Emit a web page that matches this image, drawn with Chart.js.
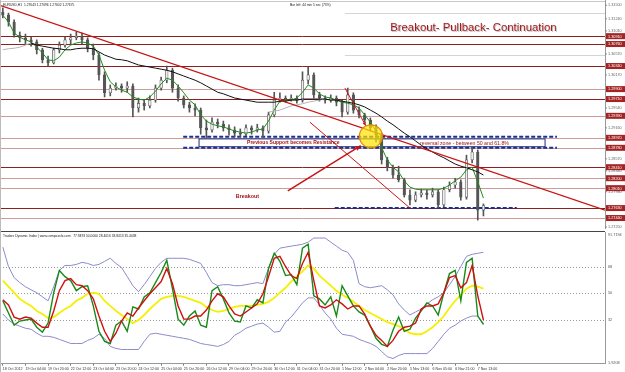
<!DOCTYPE html>
<html>
<head>
<meta charset="utf-8">
<script src="https://cdn.jsdelivr.net/npm/chart.js@4.4.1/dist/chart.umd.min.js"></script>
<style>
body{margin:0;background:#fff;width:625px;height:372px;overflow:hidden}
#top{position:absolute;left:0;top:0;width:625px;height:231px}
#bot{position:absolute;left:0;top:231px;width:625px;height:141px}
</style>
</head>
<body>
<div id="top"><canvas id="c1"></canvas></div>
<div id="bot"><canvas id="c2"></canvas></div>
<script>
// x axis labels, one every 4 bars (4h bars)
var xTicks=["18 Oct 2012","19 Oct 04:00","19 Oct 20:00","22 Oct 12:00","23 Oct 04:00","23 Oct 20:00","24 Oct 12:00","25 Oct 04:00","25 Oct 20:00","26 Oct 12:00","29 Oct 04:00","29 Oct 20:00","30 Oct 12:00","31 Oct 04:00","31 Oct 20:00","1 Nov 12:00","2 Nov 04:00","2 Nov 20:00","5 Nov 13:00","6 Nov 05:00","6 Nov 21:00","7 Nov 13:00"];

// EURUSD candles
var opens=[1.3137,1.3131,1.3118,1.3093,1.3088,1.3084,1.3080,1.3065,1.3046,1.3040,
1.3065,1.3074,1.3084,1.3088,1.3091,1.3084,1.3068,1.3055,1.3017,1.2983,
1.2992,1.2996,1.2992,1.2996,1.2954,1.2963,1.2958,1.2969,1.2992,1.3007,
1.3026,1.2992,1.2973,1.2960,1.2954,1.2950,1.2916,1.2912,1.2927,1.2923,
1.2916,1.2912,1.2906,1.2904,1.2916,1.2912,1.2916,1.2910,1.2941,1.2969,
1.2973,1.2971,1.2973,1.2969,1.3007,1.3017,1.2979,1.2973,1.2969,1.2973,
1.2965,1.2946,1.2979,1.2950,1.2941,1.2931,1.2916,1.2902,1.2855,1.2840,
1.2826,1.2817,1.2788,1.2778,1.2788,1.2792,1.2788,1.2794,1.2769,1.2798,
1.2807,1.2813,1.2784,1.2855,1.2870,1.2759];
var highs=[1.3145,1.3135,1.3122,1.3099,1.3095,1.3089,1.3084,1.3068,1.3053,1.3068,
1.3080,1.3089,1.3095,1.3099,1.3097,1.3088,1.3076,1.3059,1.3023,1.2998,
1.3002,1.3000,1.3004,1.3000,1.2973,1.2969,1.2977,1.2998,1.3013,1.3034,
1.3030,1.2998,1.2977,1.2965,1.2962,1.2954,1.2931,1.2935,1.2933,1.2929,
1.2922,1.2918,1.2914,1.2922,1.2920,1.2923,1.2920,1.2946,1.2984,1.2983,
1.2977,1.2979,1.2977,1.3023,1.3032,1.3021,1.2984,1.2977,1.2979,1.2977,
1.2969,1.2992,1.2983,1.2956,1.2944,1.2935,1.2922,1.2906,1.2860,1.2845,
1.2843,1.2820,1.2798,1.2794,1.2799,1.2798,1.2801,1.2798,1.2803,1.2813,
1.2820,1.2817,1.2864,1.2880,1.2874,1.2771];
var lows=[1.3126,1.3110,1.3089,1.3080,1.3076,1.3072,1.3057,1.3040,1.3034,1.3038,
1.3059,1.3070,1.3076,1.3084,1.3076,1.3061,1.3046,1.3007,1.2975,1.2977,
1.2988,1.2984,1.2984,1.2937,1.2946,1.2950,1.2954,1.2965,1.2988,1.3002,
1.2984,1.2967,1.2954,1.2946,1.2939,1.2904,1.2897,1.2908,1.2916,1.2910,
1.2902,1.2899,1.2899,1.2901,1.2904,1.2908,1.2899,1.2906,1.2937,1.2965,
1.2965,1.2967,1.2963,1.2965,1.3000,1.2973,1.2967,1.2963,1.2965,1.2958,
1.2937,1.2942,1.2944,1.2935,1.2927,1.2910,1.2889,1.2847,1.2834,1.2820,
1.2813,1.2784,1.2769,1.2775,1.2784,1.2780,1.2784,1.2763,1.2765,1.2794,
1.2801,1.2778,1.2780,1.2849,1.2740,1.2748];
var closes=[1.3131,1.3118,1.3093,1.3088,1.3084,1.3080,1.3065,1.3046,1.3040,1.3065,
1.3074,1.3084,1.3088,1.3091,1.3084,1.3068,1.3055,1.3017,1.2983,1.2992,
1.2996,1.2992,1.2996,1.2954,1.2963,1.2958,1.2969,1.2992,1.3007,1.3026,
1.2992,1.2973,1.2960,1.2954,1.2950,1.2916,1.2912,1.2927,1.2923,1.2916,
1.2912,1.2906,1.2904,1.2916,1.2912,1.2916,1.2910,1.2941,1.2969,1.2973,
1.2971,1.2973,1.2969,1.3007,1.3017,1.2979,1.2973,1.2969,1.2973,1.2965,
1.2946,1.2979,1.2950,1.2941,1.2931,1.2916,1.2902,1.2855,1.2840,1.2826,
1.2817,1.2788,1.2778,1.2788,1.2792,1.2788,1.2794,1.2769,1.2798,1.2807,
1.2813,1.2784,1.2855,1.2870,1.2759,1.2768];

// moving averages
var maFast=[1.3131,1.3118,1.3097,1.3089,1.3084,1.3080,1.3070,1.3059,1.3046,1.3044,
1.3051,1.3065,1.3074,1.3078,1.3080,1.3078,1.3072,1.3055,1.3026,1.3004,
1.2994,1.2988,1.2984,1.2975,1.2971,1.2969,1.2975,1.2986,1.3000,1.3011,
1.3007,1.2996,1.2983,1.2969,1.2960,1.2941,1.2929,1.2923,1.2920,1.2918,
1.2914,1.2910,1.2908,1.2906,1.2908,1.2912,1.2914,1.2929,1.2950,1.2967,
1.2969,1.2969,1.2973,1.2984,1.2998,1.2992,1.2981,1.2975,1.2973,1.2969,
1.2965,1.2963,1.2960,1.2954,1.2941,1.2927,1.2910,1.2878,1.2855,1.2841,
1.2832,1.2815,1.2803,1.2799,1.2798,1.2798,1.2798,1.2798,1.2801,1.2807,
1.2815,1.2822,1.2836,1.2841,1.2813,1.2782];
var maSlow=[null,null,null,null,null,1.3078,1.3074,1.3072,1.3070,1.3068,
1.3067,1.3065,1.3065,1.3067,1.3068,1.3068,1.3067,1.3061,1.3055,1.3051,
1.3047,1.3046,1.3044,1.3040,1.3036,1.3034,1.3032,1.3030,1.3028,1.3026,
1.3023,1.3019,1.3015,1.3011,1.3007,1.3002,1.2996,1.2990,1.2984,1.2981,
1.2977,1.2973,1.2971,1.2969,1.2967,1.2965,1.2965,1.2965,1.2965,1.2967,
1.2967,1.2969,1.2969,1.2971,1.2971,1.2971,1.2971,1.2971,1.2969,1.2969,
1.2967,1.2965,1.2963,1.2960,1.2956,1.2950,1.2944,1.2937,1.2929,1.2922,
1.2914,1.2906,1.2899,1.2891,1.2883,1.2876,1.2870,1.2864,1.2859,1.2853,
1.2847,1.2843,1.2840,1.2836,1.2832,1.2826];
var maGray=[1.3065,1.3067,1.3068,1.3070,1.3074,1.3078,null,null,null,null,
null,null,null,null,null,null,null,null,null,null,
null,null,null,null,null,null,null,null,null,null,
null,null,null,null,null,null,null,null,null,null,
null,null,null,null,null,null,null,1.2946,1.2948,1.2950,
1.2954,1.2958,1.2960,1.2962,1.2965,1.2967,1.2969,1.2971];

// horizontal levels and axis
var levels=[1.3091,1.3076,1.3034,1.2990,1.2971,1.2939,1.2897,1.2878,1.2841,1.2820,1.2801,1.2763,1.2744];
var levelDark=[1,1,1,0,1,0,0,0,1,0,0,1,0];
var fibLines=[1.3135,1.3055];
var priceTicks=[1.3150,1.3124,1.3101,1.3057,1.3017,1.2954,1.2916,1.2857,1.2834,1.2794,1.2725];

// Traders Dynamic Index
var rsi=[44.8,36.5,28.2,31.0,31.7,32.3,26.8,23.4,29.6,50.3,
65.5,61.3,58.6,51.7,54.4,55.1,41.3,24.0,17.1,15.7,
28.2,31.0,24.0,40.6,39.2,47.5,50.3,57.2,64.1,72.4,
53.1,32.3,28.2,34.4,37.9,28.2,26.8,51.7,54.4,46.1,
36.5,31.0,30.3,41.3,39.9,45.5,43.4,66.9,77.2,71.7,
62.0,62.7,55.8,80.7,83.4,48.2,46.1,42.0,47.5,34.4,
55.1,48.2,41.3,37.2,35.1,27.5,19.2,15.1,13.7,24.7,
33.7,24.0,25.4,33.0,37.9,43.4,41.3,35.1,50.3,63.4,
65.5,44.8,71.0,73.8,34.4,28.9];
var signal=[45.5,42.0,33.7,32.3,33.7,33.0,29.6,26.8,26.8,37.9,
51.7,58.6,60.0,55.8,55.1,51.7,46.1,34.4,24.0,17.1,
22.7,31.0,36.5,34.4,39.9,44.8,49.6,53.7,57.9,66.9,
56.5,41.3,32.3,32.3,34.4,34.4,38.5,44.8,49.6,47.5,
41.3,35.8,34.4,37.2,39.9,42.7,49.6,61.3,73.8,75.1,
68.2,62.0,60.0,70.3,77.9,58.6,41.3,39.9,42.0,45.5,
42.7,39.2,41.3,41.3,35.8,27.5,21.3,17.8,13.7,17.8,
24.0,26.8,27.5,29.6,39.2,41.3,41.3,42.7,50.3,60.7,
62.0,53.7,57.2,68.9,48.2,31.7];
var base=[58.6,54.4,50.3,46.1,43.4,41.3,37.9,35.8,33.0,33.7,
36.5,39.2,41.3,44.8,46.8,49.6,50.3,49.6,44.8,41.3,
37.9,35.1,32.3,29.6,31.7,35.1,39.2,42.7,46.1,47.5,
48.2,48.2,47.5,46.1,44.8,43.4,40.6,38.5,37.2,37.9,
39.2,40.6,41.3,41.3,41.3,42.0,42.7,44.1,46.8,50.3,
53.7,57.9,61.3,64.8,68.9,66.9,62.0,58.6,55.1,51.7,
48.9,46.8,44.1,41.3,38.5,36.5,34.4,32.3,30.3,28.9,
27.5,25.4,22.7,22.0,22.0,24.0,26.8,30.3,34.4,39.9,
44.8,48.9,53.1,55.1,54.4,53.1];
var bandUp=[81.4,68.2,60.6,57.2,54.4,52.3,50.3,47.5,44.8,54.4,
65.5,68.9,68.9,69.6,71.0,70.3,68.9,69.6,71.7,73.8,
70.3,67.5,61.3,55.1,51.0,55.8,61.3,66.9,71.0,73.8,
73.8,73.8,73.8,73.1,71.7,70.3,64.1,57.2,55.1,55.8,
55.8,55.1,55.1,55.8,56.5,57.2,56.5,66.9,76.5,80.7,
81.4,82.1,82.7,83.4,84.8,87.6,87.6,87.6,84.8,82.1,
79.3,77.9,72.4,56.5,54.4,53.7,54.4,55.1,52.3,48.9,
42.7,38.5,35.1,37.2,39.2,42.7,45.5,47.5,50.3,55.8,
61.3,68.2,75.1,76.5,77.2,77.9];
var bandDn=[35.8,31.7,28.9,27.5,26.1,25.4,22.7,20.6,20.6,19.9,
18.5,17.1,15.7,15.7,15.7,17.8,19.2,22.0,19.2,13.7,
12.3,11.6,11.6,11.6,11.6,17.1,22.0,22.7,22.0,21.3,
20.6,19.9,19.2,18.5,17.1,15.7,15.0,14.4,13.7,15.0,
17.1,21.3,23.4,26.1,27.5,28.9,29.6,26.8,23.4,24.0,
30.3,33.7,38.5,43.4,46.8,46.8,42.0,36.5,32.3,26.1,
22.0,21.3,20.6,18.5,17.1,15.7,13.7,10.2,6.7,5.4,
7.5,8.8,8.8,8.8,8.8,8.8,12.3,17.1,22.0,26.1,
28.2,31.0,33.0,34.4,34.4,28.4];
var tdiLevels=[68,50,32];

var nCats=107;
var cats=[];
for(var i=0;i<nCats;i++){
	cats.push(i%4===0 && xTicks[i/4] ? xTicks[i/4] : '');
}

Chart.defaults.font.family='"Liberation Sans", Arial, sans-serif';
var FONT='"Liberation Sans", Arial, sans-serif';

function arrow(ctx,x0,y0,x1,y1,w,color,head){
	ctx.strokeStyle=color;ctx.lineWidth=w;
	ctx.beginPath();ctx.moveTo(x0,y0);ctx.lineTo(x1,y1);ctx.stroke();
	if(head){
		var a=Math.atan2(y1-y0,x1-x0);
		ctx.fillStyle=color;ctx.beginPath();
		ctx.moveTo(x1,y1);
		ctx.lineTo(x1-head*Math.cos(a-0.45),y1-head*Math.sin(a-0.45));
		ctx.lineTo(x1-head*Math.cos(a+0.45),y1-head*Math.sin(a+0.45));
		ctx.closePath();ctx.fill();
	}
}

var priceDraw={
	id:'priceDraw',
	beforeDatasetsDraw:function(chart){
		var ctx=chart.ctx,a=chart.chartArea,xs=chart.scales.x,ys=chart.scales.y;
		ctx.save();
		// top frame line
		ctx.strokeStyle='#c8c8c8';ctx.lineWidth=1;
		ctx.beginPath();ctx.moveTo(a.left,1.5);ctx.lineTo(a.right,1.5);ctx.stroke();
		// fibo lines
		ctx.strokeStyle='#d4d4d4';
		fibLines.forEach(function(p){
			var y=Math.round(ys.getPixelForValue(p))+0.5;
			ctx.beginPath();ctx.moveTo(xs.getPixelForValue(60.5),y);ctx.lineTo(a.right,y);ctx.stroke();
		});
		// horizontal levels
		levels.forEach(function(p,k){
			var y=Math.round(ys.getPixelForValue(p))+0.5;
			ctx.strokeStyle=levelDark[k]?'#8e1f1f':'#cf9a9a';
			ctx.lineWidth=1;
			ctx.beginPath();ctx.moveTo(a.left,y);ctx.lineTo(a.right,y);ctx.stroke();
		});
		// zone box
		var bx0=xs.getPixelForValue(34.7),bx1=xs.getPixelForValue(95.9);
		var by0=ys.getPixelForValue(1.2895),by1=ys.getPixelForValue(1.2880);
		ctx.fillStyle='#fff';ctx.fillRect(bx0,by0,bx1-bx0,by1-by0);
		ctx.strokeStyle='#1b2a7a';ctx.lineWidth=1;ctx.strokeRect(bx0,by0,bx1-bx0,by1-by0);
		// dashed zone lines
		ctx.strokeStyle='#1b2f8e';ctx.lineWidth=2;ctx.setLineDash([4,2]);
		[[1.2899,31.9,98],[1.2878,31.9,98],[1.2763,58.7,90.9]].forEach(function(d){
			var y=ys.getPixelForValue(d[0]);
			ctx.beginPath();ctx.moveTo(xs.getPixelForValue(d[1]),y);ctx.lineTo(xs.getPixelForValue(d[2]),y);ctx.stroke();
		});
		ctx.setLineDash([]);
		ctx.restore();
	},
	afterDatasetsDraw:function(chart){
		var ctx=chart.ctx,a=chart.chartArea,xs=chart.scales.x,ys=chart.scales.y;
		function P(i,p){return [xs.getPixelForValue(i),ys.getPixelForValue(p)];}
		ctx.save();
		ctx.beginPath();ctx.rect(a.left,a.top,a.right-a.left,a.bottom-a.top);ctx.clip();
		// trend lines and arrows
		var lines=[
			[-0.5,1.3150,106.5,1.2759,1.3,0],
			[54.3,1.2927,72,1.2763,1,0],
			[50.4,1.2796,63.3,1.2882,1.5,6],
			[60.5,1.2992,64.2,1.2920,1,4]
		];
		lines.forEach(function(l){
			var p0=P(l[0],l[1]),p1=P(l[2],l[3]);
			arrow(ctx,p0[0],p0[1],p1[0],p1[1],l[4],'#c81414',l[5]);
		});
		// yellow circle
		var c=P(65.1,1.2900);
		ctx.fillStyle='rgba(255,226,0,0.7)';ctx.strokeStyle='#e08a00';ctx.lineWidth=1.2;
		ctx.beginPath();ctx.arc(c[0],c[1],11.5,0,Math.PI*2);ctx.fill();ctx.stroke();
		// texts
		ctx.textBaseline='middle';ctx.textAlign='left';
		var t=P(68.5,1.3107);
		ctx.font='11.4px '+FONT;
		ctx.fillStyle='rgba(0,0,0,0.25)';ctx.fillText('Breakout- Pullback- Continuation',t[0]+1,t[1]+1);
		ctx.fillStyle='#a3171b';ctx.fillText('Breakout- Pullback- Continuation',t[0],t[1]);
		ctx.font='bold 5px '+FONT;ctx.fillStyle='#a3171b';
		t=P(43.2,1.2887);ctx.fillText('Previous Support becomes Resistance',t[0],t[1]);
		t=P(41.2,1.2786);ctx.font='bold 5.4px '+FONT;ctx.fillText('Breakout',t[0],t[1]);
		t=P(73.8,1.2887);ctx.font='5.2px '+FONT;ctx.fillText('reversal zone - between 50 and 61.8%',t[0],t[1]);
		ctx.restore();
	},
	afterDraw:function(chart){
		var ctx=chart.ctx,a=chart.chartArea,ys=chart.scales.y;
		ctx.save();
		ctx.textBaseline='middle';ctx.textAlign='left';
		// price labels
		ctx.font='3.8px '+FONT;ctx.fillStyle='#666';ctx.strokeStyle='#888';ctx.lineWidth=1;
		priceTicks.forEach(function(p){
			var y=ys.getPixelForValue(p);
			y=Math.min(Math.max(y,2),a.bottom-1);
			ctx.beginPath();ctx.moveTo(a.right,y);ctx.lineTo(a.right+2,y);ctx.stroke();
			ctx.fillText(p.toFixed(5),a.right+3,y);
		});
		// red level tags
		levels.forEach(function(p){
			var y=ys.getPixelForValue(p);
			ctx.fillStyle='#a32424';ctx.fillRect(a.right+1,y-3,19,6);
			ctx.fillStyle='#fff';ctx.fillText(p.toFixed(5),a.right+3,y+0.3);
		});
		// header
		ctx.fillStyle='#222';ctx.font='3.3px '+FONT;
		ctx.fillText('EURUSD,H1  1.27643 1.27696 1.27602 1.27675',3,5);
		ctx.fillText('Bar left: 44 min 5 sec (73%)',290,5);
		// left edge
		ctx.strokeStyle='#bbb';ctx.beginPath();ctx.moveTo(0.5,0);ctx.lineTo(0.5,chart.height);ctx.stroke();
		ctx.restore();
	}
};

new Chart(document.getElementById('c1'),{
	type:'bar',
	data:{
		labels:cats,
		datasets:[
			{type:'line',data:maSlow,borderColor:'#111',borderWidth:1,pointRadius:0,order:0},
			{type:'line',data:maGray,borderColor:'#b5b5b5',borderWidth:1,pointRadius:0,order:0},
			{type:'line',data:maFast,borderColor:'#1f8a1f',borderWidth:1,pointRadius:0,order:0},
			{data:opens.map(function(o,i){return [o,closes[i]];}),
			 backgroundColor:opens.map(function(o,i){return closes[i]>=o?'#eee':'#555';}),
			 borderColor:'#555',borderWidth:0.7,borderSkipped:false,barThickness:2.6,minBarLength:1,grouped:false,order:1},
			{data:lows.map(function(l,i){return [l,highs[i]];}),backgroundColor:'#555',barThickness:1,grouped:false,order:2}
		]
	},
	options:{
		responsive:true,maintainAspectRatio:false,animation:false,
		layout:{padding:{top:0,bottom:3,left:0,right:0}},
		plugins:{legend:{display:false},tooltip:{enabled:false}},
		scales:{
			x:{display:false,offset:true},
			y:{position:'right',min:1.2725,max:1.3160,grid:{display:false},
				border:{display:true,color:'#999'},ticks:{display:false},
				afterFit:function(s){s.width=20;}}
		}
	},
	plugins:[priceDraw]
});

var tdiDraw={
	id:'tdiDraw',
	beforeDatasetsDraw:function(chart){
		var ctx=chart.ctx,a=chart.chartArea,ys=chart.scales.y;
		ctx.save();
		ctx.strokeStyle='#999';ctx.lineWidth=1;ctx.setLineDash([1,2]);
		tdiLevels.forEach(function(v){
			var y=Math.round(ys.getPixelForValue(v))+0.5;
			ctx.beginPath();ctx.moveTo(a.left,y);ctx.lineTo(a.right,y);ctx.stroke();
		});
		ctx.restore();
	},
	afterDraw:function(chart){
		var ctx=chart.ctx,a=chart.chartArea,ys=chart.scales.y;
		ctx.save();
		ctx.strokeStyle='#444';ctx.lineWidth=1;
		ctx.beginPath();ctx.moveTo(0,0.5);ctx.lineTo(a.right,0.5);ctx.stroke();
		ctx.strokeStyle='#bbb';ctx.beginPath();ctx.moveTo(0.5,0);ctx.lineTo(0.5,chart.height);ctx.stroke();
		ctx.textBaseline='middle';ctx.textAlign='left';
		ctx.fillStyle='#222';ctx.font='3.3px '+FONT;
		ctx.fillText('Traders Dynamic Index | www.compassfx.com   77.9493 50.0000 28.4016 33.8413 35.4038',3,5);
		ctx.fillStyle='#555';ctx.font='3.8px '+FONT;
		ctx.fillText(ys.max.toFixed(4),a.right+3,a.top+3);
		tdiLevels.forEach(function(v){ctx.fillText(String(v),a.right+3,ys.getPixelForValue(v));});
		ctx.fillText(ys.min.toFixed(4),a.right+3,a.bottom-1);
		ctx.restore();
	}
};

new Chart(document.getElementById('c2'),{
	type:'line',
	data:{
		labels:cats,
		datasets:[
			{data:signal,borderColor:'#d01010',borderWidth:1.4,pointRadius:0,order:0},
			{data:rsi,borderColor:'#178a17',borderWidth:1.4,pointRadius:0,order:1},
			{data:base,borderColor:'#f4f000',borderWidth:1.8,pointRadius:0,order:2},
			{data:bandUp,borderColor:'#8b8bcc',borderWidth:1,pointRadius:0,order:3},
			{data:bandDn,borderColor:'#8b8bcc',borderWidth:1,pointRadius:0,order:3}
		]
	},
	options:{
		responsive:true,maintainAspectRatio:false,animation:false,
		layout:{padding:{top:1,bottom:0,left:0,right:0}},
		plugins:{legend:{display:false},tooltip:{enabled:false}},
		scales:{
			x:{offset:true,
				grid:{display:true,drawOnChartArea:false,offset:false,tickLength:2,
					color:function(c){return cats[c.index]?'#777':'rgba(0,0,0,0)';}},
				border:{display:true,color:'#999'},
				ticks:{autoSkip:false,maxRotation:0,minRotation:0,align:'start',padding:1,color:'#333',
					font:{size:3.6},callback:function(v,i){return cats[i];}}},
			y:{position:'right',min:1.9208,max:91.7194,grid:{display:false},
				border:{display:true,color:'#999'},ticks:{display:false},
				afterFit:function(s){s.width=20;}}
		}
	},
	plugins:[tdiDraw]
});
</script>
</body>
</html>
